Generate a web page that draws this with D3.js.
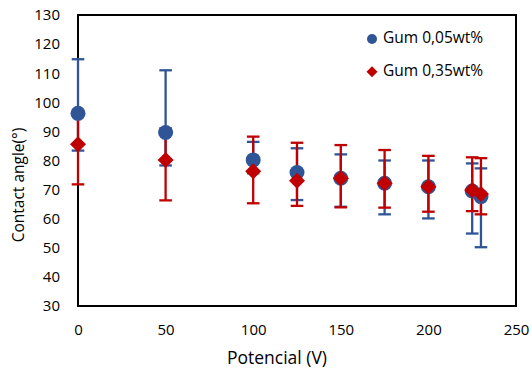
<!DOCTYPE html>
<html>
<head>
<meta charset="utf-8">
<script src="https://cdn.jsdelivr.net/npm/d3@7"></script>
<style>
  html, body { margin: 0; padding: 0; background: #fff; }
  svg { display: block; font-family: 'Open Sans', sans-serif; }
</style>
</head>
<body>
<svg id="chart"></svg>
<script>
const potential = [0, 50, 100, 125, 150, 175, 200, 225, 230];

const gum005 = [96.2, 89.6, 80.2, 75.9, 73.9, 72.2, 71.0, 69.5, 67.6];
const gum005Upper = [114.8, 111.0, 86.4, 84.2, 82.1, 80.0, 80.0, 79.0, 77.3];
const gum005Lower = [83.4, 78.3, 75.6, 66.4, 64.1, 61.5, 60.1, 54.9, 50.2];

const gum035 = [85.6, 80.2, 76.3, 73.0, 73.9, 72.2, 71.0, 69.9, 68.5];
const gum035Upper = [96.0, 91.0, 88.2, 86.1, 85.3, 83.6, 81.6, 81.1, 80.8];
const gum035Lower = [71.8, 66.3, 65.3, 64.4, 63.9, 63.8, 62.4, 62.6, 61.5];

const xTicks = [0, 50, 100, 150, 200, 250];
const yTicks = [30, 40, 50, 60, 70, 80, 90, 100, 110, 120, 130];

const series = [
  { name: 'Gum 0,05wt%', color: '#2F5597', shape: 'circle', values: gum005, upper: gum005Upper, lower: gum005Lower },
  { name: 'Gum 0,35wt%', color: '#C00000', shape: 'diamond', values: gum035, upper: gum035Upper, lower: gum035Lower },
];

const dimensions = {
  width: 531,
  height: 373,
  margin: { top: 15, right: 15, bottom: 67, left: 78 },
};
dimensions.boundedWidth = dimensions.width - dimensions.margin.left - dimensions.margin.right;
dimensions.boundedHeight = dimensions.height - dimensions.margin.top - dimensions.margin.bottom;

const svg = d3.select('#chart')
  .attr('width', dimensions.width)
  .attr('height', dimensions.height);

const bounds = svg.append('g')
  .attr('transform', `translate(${dimensions.margin.left} ${dimensions.margin.top})`);

const xScale = d3.scaleLinear()
  .domain([0, 250])
  .range([0, dimensions.boundedWidth]);

const yScale = d3.scaleLinear()
  .domain([30, 130])
  .range([dimensions.boundedHeight, 0]);

// axes, tick labels only
const xAxis = d3.axisBottom(xScale).tickValues(xTicks).tickSize(0).tickPadding(18);
const yAxis = d3.axisLeft(yScale).tickValues(yTicks).tickSize(0).tickPadding(18);

const xAxisGroup = bounds.append('g')
  .attr('transform', `translate(0 ${dimensions.boundedHeight})`)
  .call(xAxis);
const yAxisGroup = bounds.append('g').call(yAxis);

[xAxisGroup, yAxisGroup].forEach(g => {
  g.select('.domain').remove();
  g.selectAll('text')
    .attr('fill', '#000')
    .attr('font-size', 15)
    .attr('font-family', "'Open Sans', sans-serif");
});

// plot frame
bounds.append('rect')
  .attr('width', dimensions.boundedWidth)
  .attr('height', dimensions.boundedHeight)
  .attr('fill', 'none')
  .attr('stroke', '#000')
  .attr('stroke-width', 2);

// error bars first, then markers
const capHalf = 6.3;
series.forEach(s => {
  const g = bounds.append('g').attr('stroke', s.color).attr('stroke-width', 2.3).attr('fill', 'none');
  potential.forEach((p, i) => {
    const x = xScale(p);
    g.append('line')
      .attr('x1', x).attr('x2', x)
      .attr('y1', yScale(s.upper[i])).attr('y2', yScale(s.lower[i]));
    [s.upper[i], s.lower[i]].forEach(v => {
      g.append('line')
        .attr('x1', x - capHalf).attr('x2', x + capHalf)
        .attr('y1', yScale(v)).attr('y2', yScale(v));
    });
  });
});

const circleSymbol = d3.symbol().type(d3.symbolCircle);
const diamondPath = r => `M0,${-r}L${r},0L0,${r}L${-r},0Z`;

series.forEach(s => {
  bounds.append('g')
    .selectAll('path')
    .data(potential)
    .join('path')
    .attr('transform', (p, i) => `translate(${xScale(p)} ${yScale(s.values[i])})`)
    .attr('d', s.shape === 'circle' ? circleSymbol.size(Math.PI * 7.5 * 7.5)() : diamondPath(8))
    .attr('fill', s.color);
});

// axis titles
svg.append('text')
  .attr('x', 277)
  .attr('y', 359)
  .attr('text-anchor', 'middle')
  .attr('dominant-baseline', 'middle')
  .attr('font-size', 17.5)
  .text('Potencial (V)');

svg.append('text')
  .attr('transform', 'translate(20 185) rotate(-90)')
  .attr('text-anchor', 'middle')
  .attr('dominant-baseline', 'middle')
  .attr('font-size', 15.5)
  .text('Contact angle(°)');

// legend
const legend = svg.append('g').attr('transform', 'translate(372 39)');
series.forEach((s, i) => {
  const item = legend.append('g').attr('transform', `translate(0 ${i * 32.7})`);
  item.append('path')
    .attr('d', s.shape === 'circle' ? d3.symbol().type(d3.symbolCircle).size(Math.PI * 25)() : diamondPath(5.5))
    .attr('fill', s.color);
  item.append('text')
    .attr('x', 11)
    .attr('dominant-baseline', 'middle')
    .attr('font-size', 15.5)
    .text(s.name);
});
</script>
</body>
</html>
